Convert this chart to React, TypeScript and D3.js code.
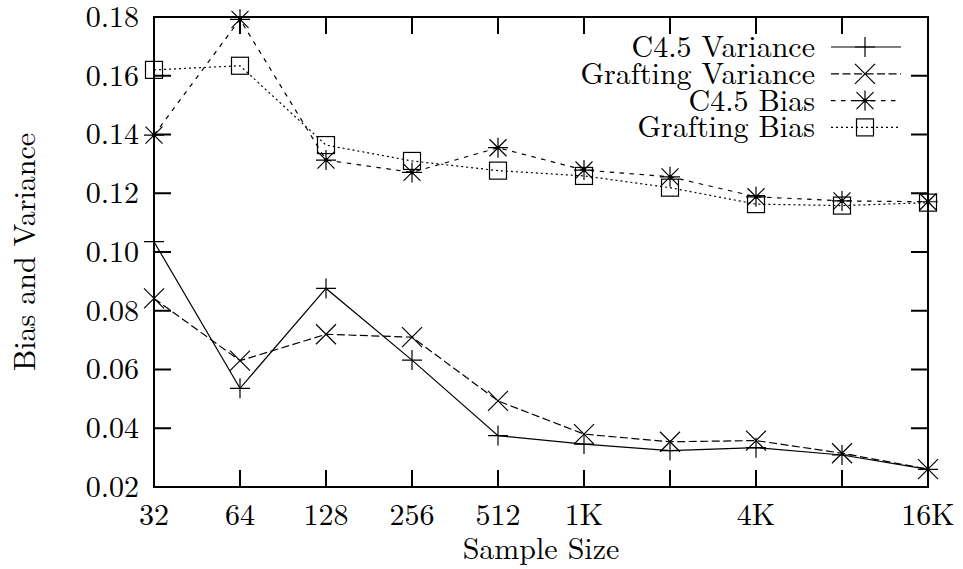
import React from "react";
import * as d3 from "d3";

const sampleSizes = [32, 64, 128, 256, 512, 1024, 2048, 4096, 8192, 16384];
const xTickLabels = ["32", "64", "128", "256", "512", "1K", "", "4K", "", "16K"];
const yTicks = [0.02, 0.04, 0.06, 0.08, 0.1, 0.12, 0.14, 0.16, 0.18];

const c45Variance = [0.1035, 0.0536, 0.0876, 0.0632, 0.0375, 0.0346, 0.0324, 0.0334, 0.0309, 0.026];
const graftingVariance = [0.0842, 0.063, 0.072, 0.071, 0.0493, 0.038, 0.0354, 0.0358, 0.0315, 0.0261];
const c45Bias = [0.1398, 0.1792, 0.1313, 0.1271, 0.1355, 0.1279, 0.1256, 0.1188, 0.1174, 0.1171];
const graftingBias = [0.162, 0.1634, 0.1364, 0.131, 0.1277, 0.1259, 0.1219, 0.1163, 0.1158, 0.1168];

const seriesNames = ["C4.5 Variance", "Grafting Variance", "C4.5 Bias", "Grafting Bias"];

const W = 963;
const H = 569;
const left = 154;
const right = 928;
const top = 17;
const bottom = 487;
const FONT = "'Latin Modern Roman'";
const FS = 30;
const LFS = 30;

type MarkerKind = "plus" | "cross" | "star" | "square";

function Marker({ kind, x, y }: { kind: MarkerKind; x: number; y: number }) {
  const s = 10;
  const d = 8.5;
  const sw = 1.2;
  const plus = (
    <path d={`M${x - s},${y}H${x + s}M${x},${y - s}V${y + s}`} stroke="#000" strokeWidth={sw} fill="none" />
  );
  const cross = (
    <path
      d={`M${x - d},${y - d}L${x + d},${y + d}M${x - d},${y + d}L${x + d},${y - d}`}
      stroke="#000"
      strokeWidth={sw}
      fill="none"
    />
  );
  if (kind === "plus") return plus;
  if (kind === "cross") {
    const c = 10;
    return (
      <path
        d={`M${x - c},${y - c}L${x + c},${y + c}M${x - c},${y + c}L${x + c},${y - c}`}
        stroke="#000"
        strokeWidth={sw}
        fill="none"
      />
    );
  }
  if (kind === "star")
    return (
      <g>
        {plus}
        {cross}
        <circle cx={x} cy={y} r={2} fill="#000" />
      </g>
    );
  return (
    <rect x={x - 8.5} y={y - 8.5} width={17} height={17} fill="none" stroke="#000" strokeWidth={sw} />
  );
}

export default function App() {
  const x = d3.scaleLog().base(2).domain([32, 16384]).range([left, right]);
  const y = d3.scaleLinear().domain([0.02, 0.18]).range([bottom, top]);

  const series = [
    { name: seriesNames[0], values: c45Variance, dash: "none", marker: "plus" as MarkerKind },
    { name: seriesNames[1], values: graftingVariance, dash: "8,3.5", marker: "cross" as MarkerKind },
    { name: seriesNames[2], values: c45Bias, dash: "4.5,5.5", marker: "star" as MarkerKind },
    { name: seriesNames[3], values: graftingBias, dash: "2,3", marker: "square" as MarkerKind },
  ];

  const line = d3
    .line<number>()
    .x((_, i) => x(sampleSizes[i]))
    .y((v) => y(v));

  const tickLen = 17;
  const legendTextX = 815;
  const legendLineX0 = 831;
  const legendLineX1 = 901;
  const legendMarkerX = 865;
  const legendY0 = 47;
  const legendDY = 26.8;
  const ts = { fontFamily: FONT };

  return (
    <svg width={W} height={H} style={{ position: "absolute", left: 0, top: 0, background: "#fff" }}>
      <rect x={0} y={0} width={W} height={H} fill="#fff" />
      {yTicks.map((t) => (
        <g key={"y" + t}>
          <line x1={left} x2={left + tickLen} y1={y(t)} y2={y(t)} stroke="#000" strokeWidth={2} />
          <line x1={right} x2={right - tickLen} y1={y(t)} y2={y(t)} stroke="#000" strokeWidth={2} />
          <text x={139} y={y(t)} dy="0.33em" textAnchor="end" fontSize={FS} style={ts}>
            {t.toFixed(2)}
          </text>
        </g>
      ))}
      {sampleSizes.map((s, i) => (
        <g key={"x" + s}>
          <line x1={x(s)} x2={x(s)} y1={bottom} y2={bottom - tickLen} stroke="#000" strokeWidth={2} />
          <line x1={x(s)} x2={x(s)} y1={top} y2={top + tickLen} stroke="#000" strokeWidth={2} />
          {xTickLabels[i] && (
            <text x={x(s)} y={525} textAnchor="middle" fontSize={FS} style={ts}>
              {xTickLabels[i]}
            </text>
          )}
        </g>
      ))}
      <rect x={left} y={top} width={right - left} height={bottom - top} fill="none" stroke="#000" strokeWidth={2} />

      <text x={(left + right) / 2} y={559} textAnchor="middle" fontSize={FS} style={ts}>
        Sample Size
      </text>
      <text
        transform={`translate(35,${(top + bottom) / 2}) rotate(-90)`}
        textAnchor="middle"
        fontSize={FS}
        style={ts}
      >
        Bias and Variance
      </text>

      {series.map((s) => (
        <g key={s.name}>
          <path d={line(s.values) || ""} fill="none" stroke="#000" strokeWidth={1.2} strokeDasharray={s.dash} />
          {s.values.map((v, i) => (
            <Marker key={i} kind={s.marker} x={x(sampleSizes[i])} y={y(v)} />
          ))}
        </g>
      ))}

      {series.map((s, i) => {
        const ly = legendY0 + i * legendDY;
        return (
          <g key={"leg" + s.name}>
            <text x={legendTextX} y={ly} dy="0.33em" textAnchor="end" fontSize={LFS} style={ts}>
              {s.name}
            </text>
            <line
              x1={legendLineX0}
              x2={legendLineX1}
              y1={ly}
              y2={ly}
              stroke="#000"
              strokeWidth={1.2}
              strokeDasharray={s.dash}
            />
            <Marker kind={s.marker} x={legendMarkerX} y={ly} />
          </g>
        );
      })}
    </svg>
  );
}
